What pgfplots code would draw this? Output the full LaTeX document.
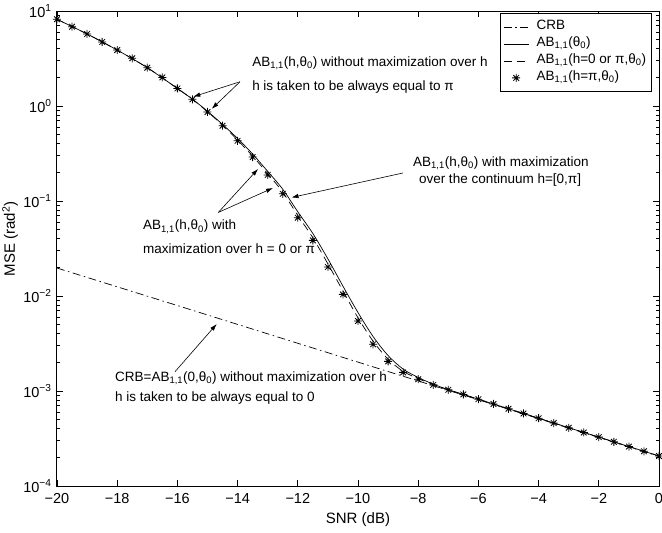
\documentclass[border=0pt]{standalone}
\usepackage{pgfplots}
\pgfplotsset{compat=1.18}
\usepackage{pgfplotstable}
\usepackage{fontspec}
\setmainfont{Liberation Sans}
\usetikzlibrary{arrows.meta}
\newcommand{\sub}[1]{\textsubscript{#1}}

\pgfdeclareplotmark{mstar}{%
  \pgfpathmoveto{\pgfqpoint{0pt}{\pgfplotmarksize}}\pgfpathlineto{\pgfqpoint{0pt}{-\pgfplotmarksize}}%
  \pgfpathmoveto{\pgfqpoint{\pgfplotmarksize}{0pt}}\pgfpathlineto{\pgfqpoint{-\pgfplotmarksize}{0pt}}%
  \pgfpathmoveto{\pgfqpoint{0.707\pgfplotmarksize}{0.707\pgfplotmarksize}}\pgfpathlineto{\pgfqpoint{-0.707\pgfplotmarksize}{-0.707\pgfplotmarksize}}%
  \pgfpathmoveto{\pgfqpoint{-0.707\pgfplotmarksize}{0.707\pgfplotmarksize}}\pgfpathlineto{\pgfqpoint{0.707\pgfplotmarksize}{-0.707\pgfplotmarksize}}%
  \pgfusepathqstroke}

\pgfplotstableread{
x y
-20 0.0197
-16 0.00794
-12 0.00318
-8 0.001276
-4 0.000512
0 0.000205
}\crb

\pgfplotstableread{
x y
-20 8.18
-19.5 6.84
-19 5.73
-18.5 4.72
-18 3.88
-17.5 3.18
-17 2.53
-16.5 2.00
-16 1.53
-15.5 1.175
-15 0.865
-14.5 0.62
-14 0.43
-13.5 0.29
-13 0.188
-12.5 0.119
-12 0.0667
-11.5 0.0385
-11 0.0202
-10.5 0.0104
-10 0.00546
-9.5 0.0031
-9 0.00205
-8.5 0.00157
-8 0.00133
-7.5 0.00116
-7 0.00103
-6.5 0.00092
-6 0.00082
-5.5 0.00073
-5 0.00065
-4.5 0.00058
-4 0.000517
-3.5 0.00046
-3 0.00041
-2.5 0.000366
-2 0.000327
-1.5 0.000292
-1 0.00026
-0.5 0.000232
0 0.000207
}\stars

\pgfplotstableread{
x y
-20 8.18
-19 5.73
-18 3.88
-17 2.53
-16 1.53
-15.5 1.175
-15 0.87
-14.5 0.628
-14 0.437
-13.5 0.297
-13 0.194
-12.5 0.124
-12 0.0705
-11.5 0.041
-11 0.0218
-10.5 0.0113
-10 0.0059
-9.5 0.00335
-9 0.00216
-8.5 0.00161
-8 0.00135
-7.5 0.00117
-7 0.00103
-6 0.00082
-4 0.000517
-2 0.000327
0 0.000207
}\dashed

\pgfplotstableread{
x y
-20 8.18
-19 5.73
-18 3.88
-17 2.53
-16 1.53
-15.5 1.18
-15 0.88
-14.5 0.64
-14 0.455
-13.5 0.312
-13 0.205
-12.5 0.133
-12 0.077
-11.5 0.0455
-11 0.0246
-10.5 0.0127
-10 0.0067
-9.5 0.00375
-9 0.00236
-8.5 0.0017
-8 0.00139
-7.5 0.00118
-7 0.001035
-6 0.00082
-4 0.000517
-2 0.000327
0 0.000207
}\solid

\begin{document}
\begin{tikzpicture}
\begin{axis}[
  scale only axis,
  width=602pt, height=475pt,
  ymode=log,
  xmin=-20, xmax=0, ymin=1e-4, ymax=10,
  xtick={-20,-18,...,0},
  xticklabels={−20,−18,−16,−14,−12,−10,−8,−6,−4,−2,0},
  ytick={1e-4,1e-3,1e-2,1e-1,1,10},
  yticklabels={10\textsuperscript{−4},10\textsuperscript{−3},10\textsuperscript{−2},10\textsuperscript{−1},10\textsuperscript{0},10\textsuperscript{1}},
  tick label style={font=\fontsize{14.5}{16}\selectfont},
  xticklabel style={inner ysep=1pt, yshift=-6.5pt},
  yticklabel style={xshift=-2pt, inner ysep=0pt},
  tick align=inside,
  major tick length=6pt,
  minor tick length=3.5pt,
  every tick/.style={black, line width=0.8pt},
  axis line style={line width=1pt},
  xlabel={SNR (dB)},
  ylabel={MSE (rad\textsuperscript{2})},
  label style={font=\fontsize{15}{17}\selectfont},
  xlabel style={at={(rel axis cs:0.5,-0.0716)}, anchor=center},
  ylabel style={at={(rel axis cs:-0.078,0.52)}, anchor=center},
  legend cell align=left,
  legend style={at={(rel axis cs:0.9875,0.9958)}, anchor=north east, draw=black, line width=0.8pt,
    font=\fontsize{13.5}{15}\selectfont, row sep=0pt, inner xsep=3pt, inner ysep=5pt,
    nodes={text height=10pt, text depth=5pt, inner ysep=1pt, inner xsep=2pt}},
  legend image code/.code={\draw[mark repeat=2,mark phase=2,#1] plot coordinates {(0pt,0pt) (12.5pt,0pt) (25pt,0pt)}; \path[draw=none] (0pt,0pt) -- (31pt,0pt);},
  clip=false,
]
\addplot[black, line width=0.7pt, dash pattern=on 8pt off 3.5pt on 1.5pt off 3.5pt] table[x=x,y=y] {\crb};
\addlegendentry{CRB}
\addplot[black, line width=0.7pt, smooth] table[x=x,y=y] {\solid};
\addlegendentry{AB\sub{1,1}(θ\sub{0})}
\addplot[black, line width=0.7pt, smooth, dash pattern=on 8pt off 5pt] table[x=x,y=y] {\dashed};
\addlegendentry{AB\sub{1,1}(h=0 or π,θ\sub{0})}
\addplot[black, only marks, mark=mstar, mark size=4pt, mark options={line width=0.8pt}] table[x=x,y=y] {\stars};
\addlegendentry{AB\sub{1,1}(h=π,θ\sub{0})}

\begin{scope}[font=\fontsize{13.5}{15}\selectfont]
\node[anchor=west, inner sep=0pt] at (rel axis cs:0.324,0.8905) {AB\sub{1,1}(h,θ\sub{0}) without maximization over h};
\node[anchor=west, inner sep=0pt] at (rel axis cs:0.324,0.8406) {h is taken to be always equal to π};
\node[anchor=west, inner sep=0pt] at (rel axis cs:0.5914,0.68) {AB\sub{1,1}(h,θ\sub{0}) with maximization};
\node[anchor=west, inner sep=0pt] at (rel axis cs:0.601,0.644) {over the continuum h=[0,π]};
\node[anchor=west, inner sep=0pt] at (rel axis cs:0.1429,0.546) {AB\sub{1,1}(h,θ\sub{0}) with};
\node[anchor=west, inner sep=0pt] at (rel axis cs:0.1429,0.499) {maximization over h = 0 or π};
\node[anchor=west, inner sep=0pt] at (rel axis cs:0.0963,0.2267) {CRB=AB\sub{1,1}(0,θ\sub{0}) without maximization over h};
\node[anchor=west, inner sep=0pt] at (rel axis cs:0.0963,0.1846) {h is taken to be always equal to 0};
\end{scope}
\begin{scope}[line width=0.6pt, -{Latex[length=7pt,width=4.5pt]}]
\draw (rel axis cs:0.304,0.851) -- (rel axis cs:0.2264,0.8196);
\draw (rel axis cs:0.304,0.851) -- (rel axis cs:0.257,0.794);
\draw (rel axis cs:0.5748,0.659) -- (rel axis cs:0.3895,0.6074);
\draw (rel axis cs:0.268,0.576) -- (rel axis cs:0.3339,0.6674);
\draw (rel axis cs:0.268,0.576) -- (rel axis cs:0.3588,0.6274);
\draw (rel axis cs:0.196,0.2406) -- (rel axis cs:0.2653,0.341);
\end{scope}
\coordinate (bl) at (rel axis cs:0,0);
\coordinate (tr) at (rel axis cs:1,1);
\end{axis}
\pgfresetboundingbox
\useasboundingbox ([xshift=-57pt,yshift=-47pt]bl) rectangle ([xshift=3pt,yshift=11pt]tr);
\end{tikzpicture}
\end{document}
